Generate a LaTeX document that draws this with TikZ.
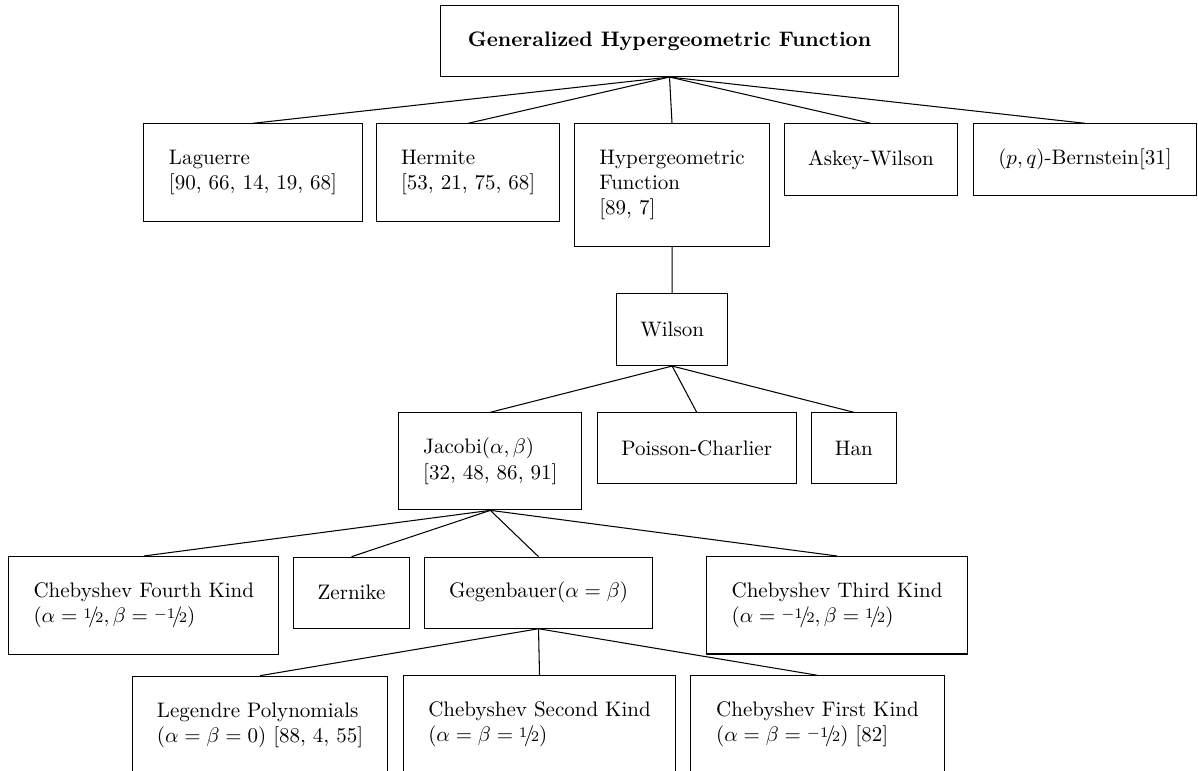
\documentclass[tikz,border=0pt]{standalone}
\usepackage{tikz}
\def\pxu{0.476pt}
\newcommand{\nfr}[2]{{\raisebox{.5ex}{$\scriptstyle #1$}\!/\!{\scriptstyle #2}}}
\begin{document}
\begin{tikzpicture}[x=0.476pt, y=-0.476pt,
  bx/.style 2 args={draw, line width=0.5pt, anchor=north west, align=left,
    inner xsep=8pt, inner ysep=3pt,
    minimum width={#1*\pxu}, minimum height={#2*\pxu}},
  edge/.style={line width=0.5pt}]
\useasboundingbox (0,0) rectangle (1198,771);
% level 0
\node[bx={458}{71}] (gen) at (440,5) {\textbf{Generalized Hypergeometric Function}};
% level 1
\node[bx={218.4}{97.4}] (lag) at (143.3,123.3) {Laguerre\\{}[90, 66, 14, 19, 68]};
\node[bx={183.3}{97.4}] (her) at (376,123.3) {Hermite\\{}[53, 21, 75, 68]};
\node[bx={195}{122.7}] (hyp) at (574,123.3) {Hypergeometric\\Function\\{}[89, 7]};
\node[bx={172.7}{71.7}] (ask) at (784,123.3) {Askey-Wilson};
\node[bx={223}{71.7}] (ber) at (973,123.3) {$(p,q)$-Bernstein[31]};
% level 2
\node[bx={111.3}{71.7}] (wil) at (616,293.3) {Wilson};
% level 3
\node[bx={183}{97}] (jac) at (398.3,412.3) {Jacobi$(\alpha,\beta)$\\{}[32, 48, 86, 91]};
\node[bx={199}{71}] (poi) at (596.7,412.3) {Poisson-Charlier};
\node[bx={84.7}{71}] (han) at (811,412.3) {Han};
% level 4
\node[bx={270}{98}] (ch4) at (8.3,556) {Chebyshev Fourth Kind\\$(\alpha=\nfr{1}{2},\beta=\nfr{-1}{2})$};
\node[bx={115.4}{71}] (zer) at (293.3,556.7) {Zernike};
\node[bx={228.6}{71}] (geg) at (423.7,556.7) {Gegenbauer$(\alpha=\beta)$};
\node[bx={261.6}{97.5}] (ch3) at (705.7,556) {Chebyshev Third Kind\\$(\alpha=\nfr{-1}{2},\beta=\nfr{1}{2})$};
% level 5
\node[bx={255.6}{97.5}] (leg) at (131.7,675.7) {Legendre Polynomials\\$(\alpha=\beta=0)$ [88, 4, 55]};
\node[bx={272.6}{97.5}] (sec) at (402.7,675.3) {Chebyshev Second Kind\\$(\alpha=\beta=\nfr{1}{2})$};
\node[bx={253.3}{97.5}] (fir) at (690.3,675.3) {Chebyshev First Kind\\$(\alpha=\beta=\nfr{-1}{2})$ [82]};
% edges
\foreach \c in {lag,her,hyp,ask,ber} \draw[edge] (gen.south) -- (\c.north);
\draw[edge] (hyp.south) -- (wil.north);
\foreach \c in {jac,poi,han} \draw[edge] (wil.south) -- (\c.north);
\foreach \c in {ch4,zer,geg,ch3} \draw[edge] (jac.south) -- (\c.north);
\foreach \c in {leg,sec,fir} \draw[edge] (geg.south) -- (\c.north);
\end{tikzpicture}
\end{document}
